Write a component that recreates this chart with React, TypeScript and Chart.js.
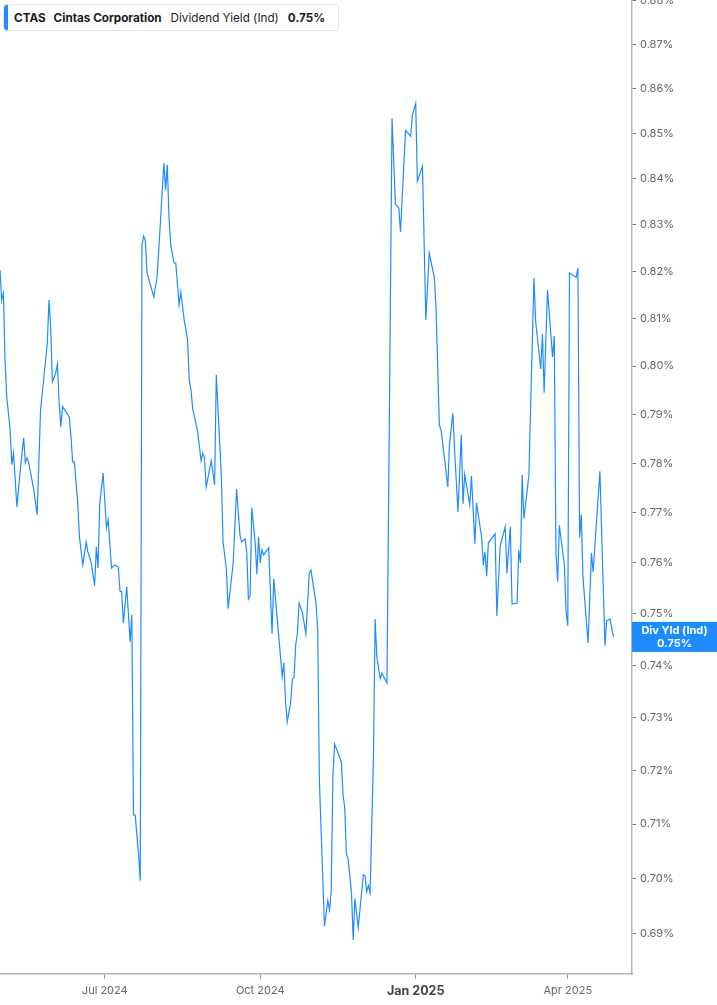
import React, { useEffect, useRef } from 'react';
import { Chart, registerables } from 'chart.js';

Chart.register(...registerables);

// CTAS dividend yield (indicated), in percent
const dates = [
  '2024-04-30', '2024-05-01', '2024-05-02', '2024-05-03', '2024-05-04', '2024-05-06', '2024-05-07', '2024-05-08',
  '2024-05-10', '2024-05-12', '2024-05-14', '2024-05-15', '2024-05-16', '2024-05-17', '2024-05-20', '2024-05-22',
  '2024-05-24', '2024-05-26', '2024-05-28', '2024-05-29', '2024-05-30', '2024-05-31', '2024-06-02', '2024-06-03',
  '2024-06-04', '2024-06-05', '2024-06-06', '2024-06-07', '2024-06-10', '2024-06-11', '2024-06-12', '2024-06-13',
  '2024-06-15', '2024-06-16', '2024-06-18', '2024-06-20', '2024-06-21', '2024-06-23', '2024-06-25', '2024-06-26',
  '2024-06-27', '2024-06-28', '2024-06-30', '2024-07-02', '2024-07-03', '2024-07-05', '2024-07-07', '2024-07-09',
  '2024-07-10', '2024-07-11', '2024-07-12', '2024-07-14', '2024-07-16', '2024-07-17', '2024-07-18', '2024-07-19',
  '2024-07-21', '2024-07-22', '2024-07-23', '2024-07-24', '2024-07-25', '2024-07-26', '2024-07-28', '2024-07-30',
  '2024-08-01', '2024-08-03', '2024-08-05', '2024-08-06', '2024-08-07', '2024-08-08', '2024-08-09', '2024-08-11',
  '2024-08-12', '2024-08-14', '2024-08-15', '2024-08-17', '2024-08-19', '2024-08-20', '2024-08-21', '2024-08-22',
  '2024-08-25', '2024-08-27', '2024-08-28', '2024-08-29', '2024-08-30', '2024-09-02', '2024-09-04', '2024-09-05',
  '2024-09-08', '2024-09-09', '2024-09-11', '2024-09-12', '2024-09-15', '2024-09-17', '2024-09-19', '2024-09-20',
  '2024-09-22', '2024-09-23', '2024-09-24', '2024-09-25', '2024-09-26', '2024-09-28', '2024-09-29', '2024-09-30',
  '2024-10-01', '2024-10-02', '2024-10-03', '2024-10-06', '2024-10-08', '2024-10-09', '2024-10-12', '2024-10-14',
  '2024-10-15', '2024-10-16', '2024-10-17', '2024-10-19', '2024-10-20', '2024-10-21', '2024-10-22', '2024-10-23',
  '2024-10-24', '2024-10-26', '2024-10-28', '2024-10-30', '2024-10-31', '2024-11-03', '2024-11-04', '2024-11-05',
  '2024-11-06', '2024-11-08', '2024-11-10', '2024-11-11', '2024-11-12', '2024-11-13', '2024-11-14', '2024-11-18',
  '2024-11-19', '2024-11-20', '2024-11-21', '2024-11-22', '2024-11-24', '2024-11-25', '2024-11-26', '2024-11-28',
  '2024-12-01', '2024-12-02', '2024-12-03', '2024-12-04', '2024-12-05', '2024-12-07', '2024-12-08', '2024-12-09',
  '2024-12-11', '2024-12-12', '2024-12-15', '2024-12-18', '2024-12-20', '2024-12-22', '2024-12-23', '2024-12-26',
  '2024-12-29', '2024-12-30', '2025-01-01', '2025-01-02', '2025-01-05', '2025-01-07', '2025-01-09', '2025-01-12',
  '2025-01-13', '2025-01-15', '2025-01-16', '2025-01-18', '2025-01-20', '2025-01-21', '2025-01-23', '2025-01-24',
  '2025-01-26', '2025-01-28', '2025-01-29', '2025-01-30', '2025-02-02', '2025-02-03', '2025-02-05', '2025-02-06',
  '2025-02-09', '2025-02-10', '2025-02-11', '2025-02-12', '2025-02-13', '2025-02-17', '2025-02-18', '2025-02-20',
  '2025-02-23', '2025-02-24', '2025-02-26', '2025-02-27', '2025-03-02', '2025-03-03', '2025-03-04', '2025-03-05',
  '2025-03-06', '2025-03-09', '2025-03-10', '2025-03-12', '2025-03-13', '2025-03-16', '2025-03-17', '2025-03-18',
  '2025-03-20', '2025-03-23', '2025-03-24', '2025-03-25', '2025-03-26', '2025-03-27', '2025-03-30', '2025-03-31',
  '2025-04-01', '2025-04-02', '2025-04-04', '2025-04-06', '2025-04-07', '2025-04-08', '2025-04-09', '2025-04-10',
  '2025-04-13', '2025-04-15', '2025-04-16', '2025-04-20', '2025-04-23', '2025-04-24', '2025-04-26', '2025-04-28',
];

const yieldValues = [
  0.8203, 0.8139, 0.8154, 0.8009, 0.7936, 0.7868, 0.7797, 0.7821,
  0.7712, 0.7786, 0.7852, 0.7801, 0.7811, 0.7801, 0.7746, 0.7696,
  0.7909, 0.7978, 0.8049, 0.8139, 0.8082, 0.7967, 0.7986, 0.8005,
  0.7924, 0.7874, 0.7916, 0.7911, 0.7895, 0.7854, 0.7803, 0.7803,
  0.7720, 0.7652, 0.7596, 0.7642, 0.7622, 0.7600, 0.7555, 0.7632,
  0.7590, 0.7716, 0.7780, 0.7670, 0.7686, 0.7590, 0.7596, 0.7592,
  0.7545, 0.7543, 0.7482, 0.7553, 0.7445, 0.7498, 0.7117, 0.7117,
  0.7044, 0.6996, 0.8257, 0.8276, 0.8267, 0.8197, 0.8171, 0.8146,
  0.8188, 0.8310, 0.8435, 0.8376, 0.8431, 0.8317, 0.8257, 0.8218,
  0.8218, 0.8129, 0.8156, 0.8097, 0.8055, 0.7971, 0.7951, 0.7913,
  0.7864, 0.7805, 0.7821, 0.7811, 0.7752, 0.7805, 0.7756, 0.7982,
  0.7772, 0.7642, 0.7586, 0.7510, 0.7600, 0.7748, 0.7656, 0.7642,
  0.7648, 0.7622, 0.7529, 0.7535, 0.7710, 0.7640, 0.7578, 0.7652,
  0.7600, 0.7626, 0.7616, 0.7630, 0.7461, 0.7569, 0.7455, 0.7378,
  0.7405, 0.7328, 0.7292, 0.7328, 0.7374, 0.7376, 0.7440, 0.7463,
  0.7521, 0.7502, 0.7461, 0.7580, 0.7586, 0.7521, 0.7469, 0.7182,
  0.7090, 0.6913, 0.6960, 0.6943, 0.6976, 0.7188, 0.7250, 0.7216,
  0.7155, 0.7130, 0.7044, 0.7036, 0.6974, 0.6889, 0.6963, 0.6911,
  0.7007, 0.7005, 0.6976, 0.6987, 0.6974, 0.7226, 0.7490, 0.7416,
  0.7374, 0.7385, 0.7366, 0.8534, 0.8345, 0.8337, 0.8285, 0.8507,
  0.8494, 0.8541, 0.8567, 0.8395, 0.8428, 0.8097, 0.8239, 0.8188,
  0.8125, 0.7878, 0.7868, 0.7811, 0.7752, 0.7838, 0.7903, 0.7827,
  0.7702, 0.7858, 0.7718, 0.7778, 0.7716, 0.7774, 0.7638, 0.7720,
  0.7652, 0.7596, 0.7622, 0.7574, 0.7640, 0.7658, 0.7496, 0.7634,
  0.7672, 0.7580, 0.7672, 0.7519, 0.7521, 0.7626, 0.7600, 0.7776,
  0.7688, 0.7776, 0.7916, 0.8186, 0.8093, 0.7994, 0.8068, 0.7945,
  0.8161, 0.8019, 0.8063, 0.7620, 0.7563, 0.7675, 0.7596, 0.7504,
  0.7477, 0.8197, 0.8192, 0.8188, 0.8207, 0.7650, 0.7696, 0.7571,
  0.7443, 0.7620, 0.7582, 0.7784, 0.7438, 0.7486, 0.7490, 0.7455,
];

const xAxisStart = '2024-04-30';
const xAxisEnd = '2025-05-09';
const xTickDates = ['2024-07-01', '2024-10-01', '2025-01-01', '2025-04-01'];
const xTickLabels = ['Jul 2024', 'Oct 2024', 'Jan 2025', 'Apr 2025'];
const yTickValues = [
  0.69, 0.70, 0.71, 0.72, 0.73, 0.74, 0.75, 0.76, 0.77, 0.78,
  0.79, 0.80, 0.81, 0.82, 0.83, 0.84, 0.85, 0.86, 0.87, 0.88,
];
const yAxisMin = 0.6828;
const yAxisMax = 0.8801;

const LINE_BLUE = '#1e8cff';
const FONT = 'Inter, "Noto Sans", sans-serif';

const dayNum = (iso: string) =>
  Date.UTC(+iso.slice(0, 4), +iso.slice(5, 7) - 1, +iso.slice(8, 10)) / 86400000;

const lastValue = yieldValues[yieldValues.length - 1];
const lastLabel = lastValue.toFixed(2) + '%';

// draws the blue "Div Yld (Ind)" tag on the right axis at the last value
const lastValueTag = {
  id: 'lastValueTag',
  afterDraw(chart: any) {
    const { ctx, chartArea, scales } = chart;
    const y = scales.y.getPixelForValue(lastValue);
    const x0 = chartArea.right;
    const w = chart.width - x0;
    ctx.save();
    ctx.fillStyle = LINE_BLUE;
    ctx.fillRect(x0, y - 15, w, 30);
    ctx.fillStyle = '#ffffff';
    ctx.font = `bold 11px ${FONT}`;
    ctx.textAlign = 'center';
    ctx.textBaseline = 'middle';
    ctx.fillText('Div Yld (Ind)', x0 + w / 2, y - 6);
    ctx.fillText(lastLabel, x0 + w / 2, y + 7);
    ctx.restore();
  },
};

const DividendYieldChart: React.FC = () => {
  const chartRef = useRef<HTMLCanvasElement>(null);
  const chartInstance = useRef<Chart | null>(null);

  useEffect(() => {
    if (!chartRef.current) return;
    if (chartInstance.current) {
      chartInstance.current.destroy();
    }
    const ctx = chartRef.current.getContext('2d');
    if (!ctx) return;

    const points = dates.map((d, i) => ({ x: dayNum(d), y: yieldValues[i] }));

    chartInstance.current = new Chart(ctx, {
      type: 'line',
      data: {
        datasets: [
          {
            label: 'Dividend Yield (Ind)',
            data: points,
            borderColor: LINE_BLUE,
            borderWidth: 1.2,
            pointRadius: 0,
            tension: 0,
            fill: false,
          },
        ],
      },
      options: {
        animation: false,
        responsive: true,
        maintainAspectRatio: false,
        layout: { autoPadding: false, padding: 0 },
        plugins: {
          legend: { display: false },
          tooltip: { enabled: false },
        },
        scales: {
          x: {
            type: 'linear',
            min: dayNum(xAxisStart),
            max: dayNum(xAxisEnd),
            afterBuildTicks: (scale: any) => {
              scale.ticks = xTickDates.map((d) => ({ value: dayNum(d) }));
              scale.min = dayNum(xAxisStart);
              scale.max = dayNum(xAxisEnd);
            },
            afterFit: (scale: any) => {
              scale.height = 31;
              scale.paddingLeft = 0;
              scale.paddingRight = 0;
            },
            grid: { drawOnChartArea: false, drawTicks: true, tickLength: 5, color: '#9a9a9a' },
            border: { display: true, color: '#b5b5b5', width: 1.5 },
            ticks: {
              autoSkip: false,
              maxRotation: 0,
              padding: 5,
              callback: (_v: any, i: number) => xTickLabels[i],
              color: (c: any) => (xTickDates[c.index]?.endsWith('-01-01') ? '#444' : '#666'),
              font: (c: any) =>
                xTickDates[c.index]?.endsWith('-01-01')
                  ? { family: FONT, size: 12.5, weight: 'bold' }
                  : { family: FONT, size: 11 },
            },
          },
          y: {
            type: 'logarithmic',
            position: 'right',
            min: yAxisMin,
            max: yAxisMax,
            afterBuildTicks: (scale: any) => {
              // the log scale snaps min to a round tick; keep the exact range
              scale.ticks = yTickValues.map((v) => ({ value: v }));
              scale.min = yAxisMin;
              scale.max = yAxisMax;
            },
            afterFit: (scale: any) => {
              scale.width = 85;
              scale.paddingTop = 0;
              scale.paddingBottom = 0;
            },
            grid: { drawOnChartArea: false, drawTicks: true, tickLength: 4, color: '#777' },
            border: { display: true, color: '#b5b5b5', width: 1.5 },
            ticks: {
              autoSkip: false,
              padding: 4,
              color: '#666',
              font: { family: FONT, size: 11 },
              callback: (v: any) => Number(v).toFixed(2) + '%',
            },
          },
        },
      },
      plugins: [lastValueTag],
    } as any);

    return () => {
      if (chartInstance.current) {
        chartInstance.current.destroy();
        chartInstance.current = null;
      }
    };
  }, []);

  return (
    <div style={{ position: 'fixed', left: 0, top: 0, width: 717, height: 1005, background: '#fff' }}>
      <canvas ref={chartRef}></canvas>
      <div
        style={{
          position: 'absolute',
          left: 3,
          top: 4,
          height: 25,
          display: 'flex',
          alignItems: 'center',
          background: '#fff',
          border: '1px solid #e4e4e4',
          borderRadius: 3,
          paddingRight: 13,
          fontFamily: FONT,
          fontSize: 11.7,
          color: '#1a1a1a',
          whiteSpace: 'nowrap',
        }}
      >
        <span style={{ width: 4, alignSelf: 'stretch', background: LINE_BLUE, borderRadius: '3px 0 0 3px', marginRight: 6 }} />
        <b>CTAS</b>
        <b style={{ marginLeft: 8 }}>Cintas Corporation</b>
        <span style={{ marginLeft: 9 }}>Dividend Yield (Ind)</span>
        <b style={{ marginLeft: 9 }}>{lastLabel}</b>
      </div>
    </div>
  );
};

export default function App() {
  return <DividendYieldChart />;
}
